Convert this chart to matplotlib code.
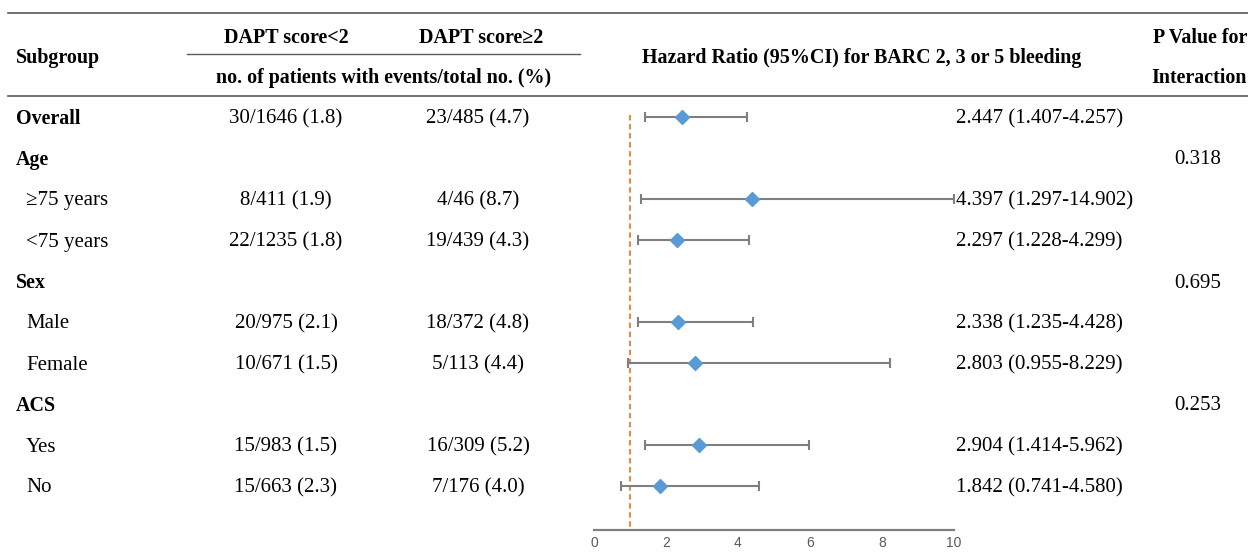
import numpy as np
import matplotlib
matplotlib.use("Agg")
import matplotlib.pyplot as plt

plt.rcParams['font.family'] = ['Liberation Serif', 'DejaVu Serif']

# ---- data ----
labels = ["Overall", "Age", "\u226575 years", "<75 years", "Sex", "Male", "Female",
          "ACS", "Yes", "No"]
is_header = [True, True, False, False, True, False, False, True, False, False]
col_low = ["30/1646 (1.8)", "", "8/411 (1.9)", "22/1235 (1.8)", "", "20/975 (2.1)",
           "10/671 (1.5)", "", "15/983 (1.5)", "15/663 (2.3)"]
col_high = ["23/485 (4.7)", "", "4/46 (8.7)", "19/439 (4.3)", "", "18/372 (4.8)",
            "5/113 (4.4)", "", "16/309 (5.2)", "7/176 (4.0)"]
hr = [2.447, np.nan, 4.397, 2.297, np.nan, 2.338, 2.803, np.nan, 2.904, 1.842]
lo = [1.407, np.nan, 1.297, 1.228, np.nan, 1.235, 0.955, np.nan, 1.414, 0.741]
hi = [4.257, np.nan, 14.902, 4.299, np.nan, 4.428, 8.229, np.nan, 5.962, 4.580]
p_int = ["", "0.318", "", "", "0.695", "", "", "0.253", "", ""]

W, H = 1248, 552
fig = plt.figure(figsize=(W / 100, H / 100), dpi=100)

# full-figure axes in pixel coordinates for the table part
tab = fig.add_axes([0, 0, 1, 1])
tab.set_xlim(0, W)
tab.set_ylim(H, 0)
tab.axis("off")

fs = 15      # regular text
fb = 14.4    # bold text
line_c = "#595959"
tab.plot([8, W], [13, 13], color=line_c, lw=1.2)
tab.plot([8, W], [96, 96], color=line_c, lw=1.2)
tab.plot([187, 580], [54, 54], color=line_c, lw=1.0)

dy = 2  # small nudge so text centres sit like the reference
tab.text(16, 56 + dy, "Subgroup", fontsize=fb, fontweight="bold", va="center", ha="left")
tab.text(286, 36 + dy, "DAPT score<2", fontsize=fb, fontweight="bold", va="center", ha="center")
tab.text(481, 36 + dy, "DAPT score\u22652", fontsize=fb, fontweight="bold", va="center", ha="center")
tab.text(384, 76 + dy, "no. of patients with events/total no. (%)", fontsize=fb,
         fontweight="bold", va="center", ha="center")
tab.text(862, 56 + dy, "Hazard Ratio (95%CI) for BARC 2, 3 or 5 bleeding", fontsize=fb,
         fontweight="bold", va="center", ha="center")
tab.text(1200, 36 + dy, "P Value for", fontsize=fb, fontweight="bold", va="center", ha="center")
tab.text(1199, 76 + dy, "Interaction", fontsize=fb, fontweight="bold", va="center", ha="center")

row_y0, row_dy = 117, 41
for i, lab in enumerate(labels):
    y = row_y0 + row_dy * i + dy
    if is_header[i]:
        tab.text(16, y, lab, fontsize=fb, fontweight="bold", va="center", ha="left")
    else:
        tab.text(26, y, lab, fontsize=fs, va="center", ha="left")
    tab.text(286, y, col_low[i], fontsize=fs, va="center", ha="center")
    tab.text(478, y, col_high[i], fontsize=fs, va="center", ha="center")
    if not np.isnan(hr[i]):
        tab.text(956, y, f"{hr[i]:.3f} ({lo[i]:.3f}-{hi[i]:.3f})", fontsize=fs,
                 va="center", ha="left")
    if p_int[i]:
        tab.text(1198, y, p_int[i], fontsize=fs, va="center", ha="center")

# forest axes
x0, x1 = 594, 954
ytop, ybot = 96.5, 530
ax = fig.add_axes([x0 / W, (H - ybot) / H, (x1 - x0) / W, (ybot - ytop) / H])
ax.patch.set_alpha(0)
nrow = len(labels)
ax.set_xlim(0, 10)
ax.set_ylim((ybot - row_y0) / row_dy, (ytop - row_y0) / row_dy)

rows = np.arange(nrow)
hr_a = np.array(hr)
lo_a = np.array(lo)
hi_a = np.clip(np.array(hi), None, 10)
ok = ~np.isnan(hr_a)
ax.vlines(1, -0.05, (ybot - row_y0) / row_dy, colors="#ED7D31", linestyles=(0, (3, 2)), lw=1.3)
ax.errorbar(hr_a[ok], rows[ok], xerr=[hr_a[ok] - lo_a[ok], hi_a[ok] - hr_a[ok]],
            fmt="none", ecolor="#7F7F7F", elinewidth=1.5, capsize=3.5, capthick=1.5)
ax.plot(hr_a[ok], rows[ok], "D", color="#5B9BD5", markersize=7, clip_on=False)

for s in ["top", "right", "left"]:
    ax.spines[s].set_visible(False)
ax.spines["bottom"].set_color("#7F7F7F")
ax.spines["bottom"].set_linewidth(1.6)
ax.set_yticks([])
ax.set_xticks(np.arange(0, 11, 2))
ax.tick_params(axis="x", length=0, pad=4, labelsize=10, labelcolor="#595959")
for t in ax.get_xticklabels():
    t.set_fontfamily(["Liberation Sans", "DejaVu Sans"])

fig.savefig("out.png", dpi=100)
